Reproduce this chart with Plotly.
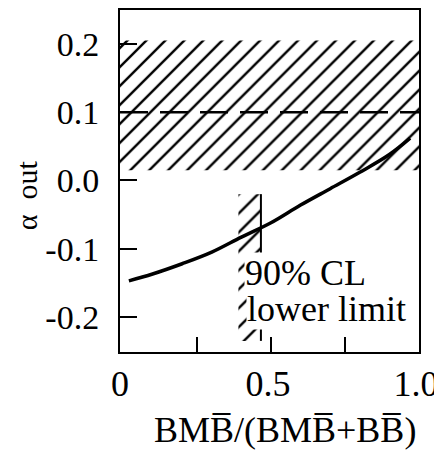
import plotly.graph_objects as go

# ---- data ----
curve_x = [0.02, 0.10, 0.20, 0.30, 0.40, 0.50, 0.60, 0.70, 0.80, 0.90, 0.97]
curve_y = [-0.147, -0.137, -0.122, -0.105, -0.083, -0.062, -0.036, -0.012, 0.012, 0.038, 0.062]

band_x = [-0.01, 1.0]          # excluded (hatched) band, x extent
band_y = [0.015, 0.205]        # excluded band, y extent
dashed_y = 0.1                 # dashed reference value

limit_x = 0.466                # 90% CL lower limit
limit_hatch_x = [0.39, 0.466]
limit_y = [-0.235, -0.02]

x_tickvals = [0, 0.5, 1.0]
x_ticktext = ["0", "0.5", "1.0"]
x_minor_ticks = [0.25, 0.5, 0.75]
y_tickvals = [-0.2, -0.1, 0.0, 0.1, 0.2]
y_ticktext = ["-0.2", "-0.1", "0.0", "0.1", "0.2"]

label_lines = ["90% CL", "lower limit"]
ov = "B\u0305"
x_title = "BM" + ov + "/(BM" + ov + "+B" + ov + ")"
y_title = "α  out"

FONT = "Tinos"
INK = "black"

fig = go.Figure()

pattern = dict(shape="/", size=13.4, solidity=0.18, fgcolor="black", fgopacity=1,
               bgcolor="rgba(0,0,0,0)", fillmode="overlay")

# hatched excluded band
fig.add_trace(go.Scatter(
    x=[band_x[0], band_x[1], band_x[1], band_x[0], band_x[0]],
    y=[band_y[0], band_y[0], band_y[1], band_y[1], band_y[0]],
    mode="lines", fill="toself", fillcolor="rgba(0,0,0,0)",
    line=dict(width=0, color="rgba(0,0,0,0)"), fillpattern=pattern,
    hoverinfo="skip", showlegend=False))

# hatched lower-limit strip
fig.add_trace(go.Scatter(
    x=[limit_hatch_x[0], limit_hatch_x[1], limit_hatch_x[1], limit_hatch_x[0], limit_hatch_x[0]],
    y=[limit_y[0], limit_y[0], limit_y[1], limit_y[1], limit_y[0]],
    mode="lines", fill="toself", fillcolor="rgba(0,0,0,0)",
    line=dict(width=0, color="rgba(0,0,0,0)"), fillpattern=pattern,
    hoverinfo="skip", showlegend=False))

# limit line
fig.add_trace(go.Scatter(
    x=[limit_x, limit_x], y=limit_y, mode="lines",
    line=dict(color=INK, width=2), hoverinfo="skip", showlegend=False))

# dashed line
fig.add_trace(go.Scatter(
    x=band_x, y=[dashed_y, dashed_y], mode="lines",
    line=dict(color=INK, width=2.5, dash="28px,12px"),
    hoverinfo="skip", showlegend=False))

# curve
fig.add_trace(go.Scatter(
    x=curve_x, y=curve_y, mode="lines",
    line=dict(color=INK, width=3.5, shape="spline"),
    hoverinfo="skip", showlegend=False))

# label with white background
fig.add_annotation(x=0.41, y=-0.136, xref="x", yref="y", text=label_lines[0],
                   showarrow=False, xanchor="left", yanchor="middle",
                   bgcolor="white", borderpad=0,
                   font=dict(family=FONT, size=36, color=INK))
fig.add_annotation(x=0.415, y=-0.189, xref="x", yref="y", text=label_lines[1],
                   showarrow=False, xanchor="left", yanchor="middle",
                   bgcolor="white", borderpad=0,
                   font=dict(family=FONT, size=36, color=INK))

# axis titles
fig.add_annotation(x=0.552, y=-0.228, xref="paper", yref="paper", text=x_title,
                   showarrow=False, xanchor="center", yanchor="middle",
                   font=dict(family=FONT, size=36, color=INK))
fig.add_annotation(x=-0.314, y=0.459, xref="paper", yref="paper", text=y_title,
                   showarrow=False, xanchor="center", yanchor="middle", textangle=-90,
                   font=dict(family=FONT, size=30, color=INK))

fig.update_layout(
    width=434, height=447,
    margin=dict(l=112, r=23, t=2, b=103, autoexpand=False),
    paper_bgcolor="white", plot_bgcolor="white",
    showlegend=False,
    font=dict(family=FONT, color=INK),
)
fig.update_xaxes(range=[-0.01, 1.0], tickvals=x_tickvals, ticktext=x_ticktext,
                 ticks="", automargin=False,
                 minor=dict(tickvals=x_minor_ticks, ticks="inside", ticklen=15,
                            tickwidth=2, tickcolor=INK, showgrid=False),
                 showline=True, linecolor=INK, linewidth=2, mirror=True,
                 showgrid=False, zeroline=False, ticklabelstandoff=-1, ticklabelshift=-3,
                 tickfont=dict(family=FONT, size=36, color=INK))
fig.update_yaxes(range=[-0.2513, 0.2498], tickvals=y_tickvals, ticktext=y_ticktext,
                 ticks="inside", ticklen=17, tickwidth=2, tickcolor=INK,
                 automargin=False,
                 showline=True, linecolor=INK, linewidth=2, mirror=True,
                 showgrid=False, zeroline=False, ticklabelstandoff=12,
                 tickfont=dict(family=FONT, size=34, color=INK))

fig.write_html("out.html")
